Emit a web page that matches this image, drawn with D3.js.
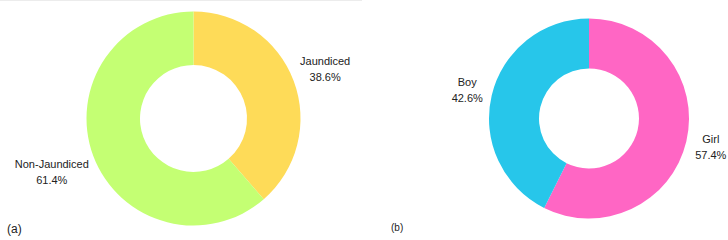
<!DOCTYPE html>
<html lang="en">
<head>
<meta charset="UTF-8" />
<title>Donut charts</title>
<script src="https://cdn.jsdelivr.net/npm/d3@7/dist/d3.min.js"></script>
<style>
    body { margin: 0; background: #fff; font-family: "Liberation Sans", Arial, sans-serif; }
    .label { fill: #222; font-size: 11px; }
    .panel-tag { fill: #222; }
</style>
</head>
<body>
<svg id="chart"></svg>
<script>
    // panel (a)
    const jaundiceCategories = ["Jaundiced", "Non-Jaundiced"];
    const jaundiceValues = [38.6, 61.4];
    const jaundiceColors = ["#FEDB58", "#C4FF73"];

    // panel (b)
    const sexCategories = ["Girl", "Boy"];
    const sexValues = [57.4, 42.6];
    const sexColors = ["#FF66C4", "#27C6EA"];

    const width = 728, height = 240;
    const svg = d3.select("#chart").attr("width", width).attr("height", height);

    // faint rule along the top of the left panel
    svg.append("line")
        .attr("x1", 0).attr("x2", 362)
        .attr("y1", 0.5).attr("y2", 0.5)
        .attr("stroke", "#ececec");

    function drawDonut(cx, cy, outerR, innerR, cats, vals, colors) {
        const g = svg.append("g").attr("transform", `translate(${cx},${cy})`);
        const pie = d3.pie().sort(null).value(d => d.value);
        const arcs = pie(cats.map((c, i) => ({ name: c, value: vals[i], color: colors[i] })));
        const arc = d3.arc().innerRadius(innerR).outerRadius(outerR);

        g.selectAll("path")
            .data(arcs)
            .enter().append("path")
            .attr("d", arc)
            .attr("fill", d => d.data.color);

        const labels = g.selectAll(".label")
            .data(arcs)
            .enter().append("text")
            .attr("class", "label")
            .attr("text-anchor", "middle");

        labels.append("tspan").attr("x", 0).attr("dy", 0).text(d => d.data.name);
        labels.append("tspan").attr("x", 0).attr("dy", 16).text(d => d.data.value.toFixed(1) + "%");

        // push labels out along the mid angle, wider labels a bit further
        labels.each(function (d) {
            const halfW = this.getBBox().width / 2;
            const r = outerR + 11 + 0.9 * halfW;
            const a = (d.startAngle + d.endAngle) / 2;
            const x = Math.sin(a) * r;
            const y = -Math.cos(a) * r;
            d3.select(this).attr("transform", `translate(${x},${y - 4})`);
        });
    }

    drawDonut(193.5, 118.5, 107, 53.5, jaundiceCategories, jaundiceValues, jaundiceColors);
    drawDonut(589, 118.5, 100, 50, sexCategories, sexValues, sexColors);

    svg.append("text").attr("class", "panel-tag")
        .attr("x", 7).attr("y", 233)
        .style("font-size", "12px")
        .text("(a)");

    svg.append("text").attr("class", "panel-tag")
        .attr("x", 391).attr("y", 231)
        .style("font-size", "10px")
        .text("(b)");
</script>
</body>
</html>
